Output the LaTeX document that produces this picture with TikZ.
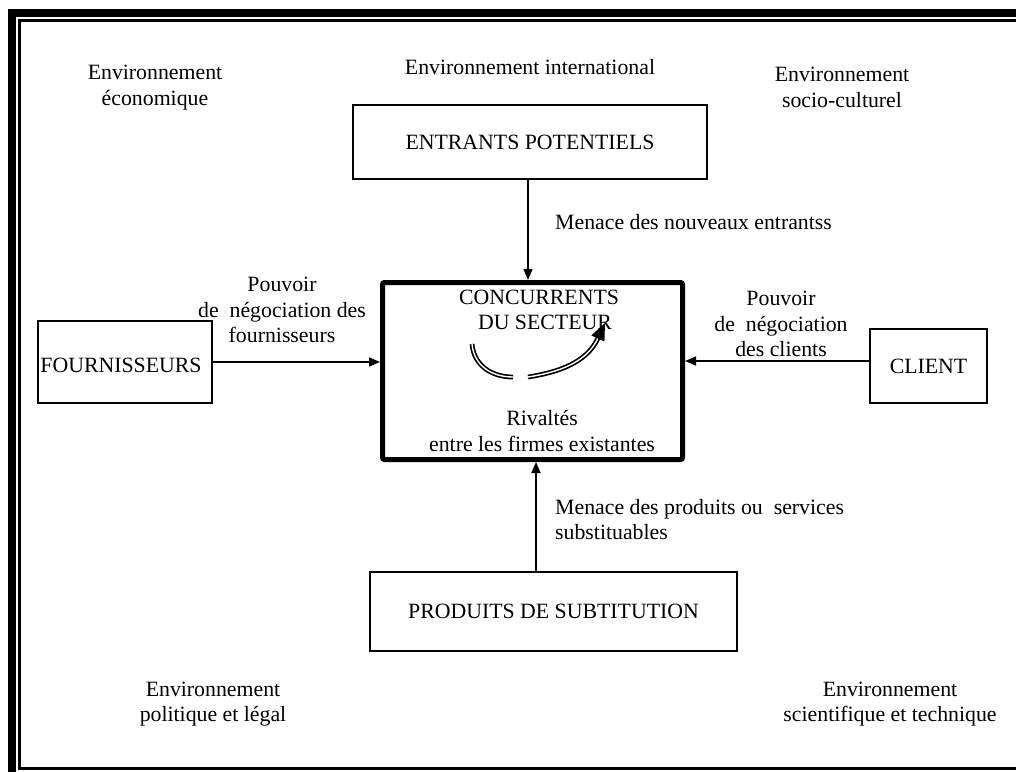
\documentclass[tikz,border=0pt]{standalone}
\usepackage{fontspec}
\setmainfont{Liberation Serif}
\usetikzlibrary{arrows.meta}
\begin{document}
\begin{tikzpicture}[x=1pt,y=-1pt,
  txt/.style={font=\fontsize{21.8}{25.5}\selectfont, inner sep=0pt, align=center},
  box/.style={draw, line width=1.6pt, inner sep=0pt, font=\fontsize{21.8}{25.5}\selectfont},
  arr/.style={line width=1.6pt, -{Triangle[length=11pt,width=9pt]}},
  rival/.style={line width=1.7pt, double, double distance=1.4pt},
]
\useasboundingbox (0,0) rectangle (1016,771);
% double frame around the page
\begin{scope}
  \clip (0,0) rectangle (1016,771);
  \draw[line width=8pt] (12,13) rectangle (1040,800);
  \draw[line width=3pt] (19.3,20.5) rectangle (1030,768);
\end{scope}

% the five forces
\node[draw, line width=5pt, rounded corners=2pt, minimum width=300pt, minimum height=177pt] (conc) at (532.5,371) {};
\node[box, minimum width=354pt, minimum height=74pt] (ent) at (530,142) {ENTRANTS POTENTIELS};
\node[box, minimum width=174pt, minimum height=82pt] (four) at (125,362) {};
\node[txt] (fourtxt) at (121,365) {FOURNISSEURS};
\node[box, minimum width=117pt, minimum height=74pt] (cli) at (928.5,366) {CLIENT};
\node[box, minimum width=367pt, minimum height=79pt] (prod) at (553.5,611.5) {PRODUITS DE SUBTITUTION};

% text inside the central box
\node[txt] (conctxt) at (539,310) {CONCURRENTS\\\hspace*{12pt}DU SECTEUR};
\node[txt] (rivtxt) at (542,431) {Rivaltés\\entre les firmes existantes};

% rivalry arrow
\draw[rival] (472,344) .. controls (474,366) and (492,377) .. (513,377);
\draw[rival, -{Triangle[length=17pt,width=14pt]}] (528,377) .. controls (560,372) and (587,362) .. (605,323);

% connectors
\draw[arr] ([xshift=-2pt]ent.south) -- ([xshift=-2pt]ent.south |- conc.north);
\draw[arr] (four.east) -- (four.east -| conc.west);
\draw[arr] ([yshift=5pt]cli.west) -- ([yshift=5pt]cli.west -| conc.east);
\draw[arr] ([xshift=-17.5pt]prod.north) -- ([xshift=-17.5pt]prod.north |- conc.south);

% connector labels
\node[txt, anchor=west] (lent) at (555,222) {Menace des nouveaux entrantss};
\node[txt] (lfour) at (282,310) {Pouvoir\\de\ \ négociation des\\fournisseurs};
\node[txt] (lcli) at (781,324) {Pouvoir\\de\ \ négociation\\des clients};
\node[txt, anchor=west, align=left] (lprod) at (555,519.5) {Menace des produits ou\ \ services\\substituables};

% surrounding environments
\node[txt] (eeco) at (155,87.5) {Environnement\\économique};
\node[txt] (eint) at (530,67) {Environnement international};
\node[txt] (esoc) at (842,87.5) {Environnement\\socio-culturel};
\node[txt] (epol) at (213,704) {Environnement\\politique et légal};
\node[txt] (esci) at (890,704) {Environnement\\scientifique et technique};
\end{tikzpicture}
\end{document}
